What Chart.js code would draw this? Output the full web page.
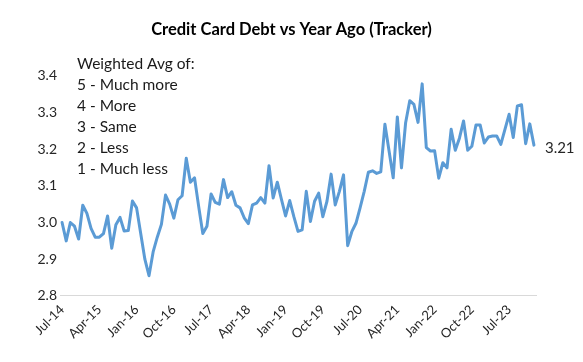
<!DOCTYPE html>
<html>
<head>
<meta charset="utf-8">
<script src="https://cdn.jsdelivr.net/npm/chart.js@4.4.1/dist/chart.umd.min.js"></script>
<style>
  html, body { margin: 0; padding: 0; background: #ffffff; }
  #wrap { width: 583px; height: 362px; }
</style>
</head>
<body>
<div id="wrap"><canvas id="c" width="583" height="362"></canvas></div>
<script>
const categories = [
  "Jul-14","Aug-14","Sep-14","Oct-14","Nov-14","Dec-14",
  "Jan-15","Feb-15","Mar-15","Apr-15","May-15","Jun-15","Jul-15","Aug-15","Sep-15","Oct-15","Nov-15","Dec-15",
  "Jan-16","Feb-16","Mar-16","Apr-16","May-16","Jun-16","Jul-16","Aug-16","Sep-16","Oct-16","Nov-16","Dec-16",
  "Jan-17","Feb-17","Mar-17","Apr-17","May-17","Jun-17","Jul-17","Aug-17","Sep-17","Oct-17","Nov-17","Dec-17",
  "Jan-18","Feb-18","Mar-18","Apr-18","May-18","Jun-18","Jul-18","Aug-18","Sep-18","Oct-18","Nov-18","Dec-18",
  "Jan-19","Feb-19","Mar-19","Apr-19","May-19","Jun-19","Jul-19","Aug-19","Sep-19","Oct-19","Nov-19","Dec-19",
  "Jan-20","Feb-20","Mar-20","Apr-20","May-20","Jun-20","Jul-20","Aug-20","Sep-20","Oct-20","Nov-20","Dec-20",
  "Jan-21","Feb-21","Mar-21","Apr-21","May-21","Jun-21","Jul-21","Aug-21","Sep-21","Oct-21","Nov-21","Dec-21",
  "Jan-22","Feb-22","Mar-22","Apr-22","May-22","Jun-22","Jul-22","Aug-22","Sep-22","Oct-22","Nov-22","Dec-22",
  "Jan-23","Feb-23","Mar-23","Apr-23","May-23","Jun-23","Jul-23","Aug-23","Sep-23","Oct-23","Nov-23","Dec-23",
  "Jan-24"
];

const trackerValues = [
  3.00, 2.95, 3.00, 2.99, 2.955, 3.047,
  3.025, 2.984, 2.96, 2.96, 2.97, 3.018, 2.93, 2.994, 3.014, 2.977, 2.978, 3.059,
  3.04, 2.97, 2.90, 2.855, 2.92, 2.96, 2.995, 3.075, 3.05, 3.012, 3.062, 3.073,
  3.175, 3.11, 3.122, 3.044, 2.97, 2.99, 3.078, 3.055, 3.05, 3.117, 3.068, 3.084,
  3.047, 3.04, 3.013, 2.997, 3.048, 3.053, 3.068, 3.053, 3.155, 3.067, 3.11, 3.063,
  3.018, 3.06, 3.016, 2.976, 2.98, 3.085, 3.003, 3.058, 3.08, 3.016, 3.058, 3.132,
  3.048, 3.085, 3.13, 2.937, 2.975, 2.998, 3.04, 3.085, 3.137, 3.141, 3.134, 3.138,
  3.268, 3.195, 3.122, 3.288, 3.149, 3.272, 3.332, 3.322, 3.273, 3.378, 3.204, 3.195,
  3.196, 3.121, 3.163, 3.149, 3.254, 3.197, 3.23, 3.277, 3.197, 3.208, 3.266, 3.266,
  3.217, 3.233, 3.236, 3.236, 3.213, 3.254, 3.295, 3.232, 3.318, 3.321, 3.215, 3.269,
  3.211
];

const yTicks = [2.8, 2.9, 3.0, 3.1, 3.2, 3.3, 3.4];
const labelEvery = 9;
const chartTitle = "Credit Card Debt vs Year Ago (Tracker)";
const noteLines = ["Weighted Avg of:", "5 - Much more", "4 - More", "3 - Same", "2 - Less", "1 - Much less"];
const lastLabel = "3.21";

const FONT = "Lato, 'Open Sans', sans-serif";

const textPlugin = {
  id: 'textPlugin',
  afterDraw(chart) {
    const ctx = chart.ctx;
    const xs = chart.scales.x, ys = chart.scales.y;
    ctx.save();
    // title centred on the full canvas width
    ctx.fillStyle = '#000000';
    ctx.font = "bold 16.5px " + FONT;
    ctx.textAlign = 'center';
    ctx.textBaseline = 'middle';
    ctx.fillText(chartTitle, chart.width / 2, 30);

    ctx.fillStyle = '#1a1a1a';
    ctx.font = "15.5px " + FONT;
    ctx.textAlign = 'left';
    noteLines.forEach((t, i) => {
      ctx.fillText(t, 77, 64 + i * 21);
    });
    const n = trackerValues.length - 1;
    const px = xs.getPixelForValue(n);
    const py = ys.getPixelForValue(trackerValues[n]);
    ctx.fillStyle = '#262626';
    ctx.font = "15px " + FONT;
    ctx.fillText(lastLabel, px + 11, py + 3);
    ctx.restore();
  }
};

new Chart(document.getElementById('c'), {
  type: 'line',
  data: {
    labels: categories,
    datasets: [{
      data: trackerValues,
      borderColor: '#5B9BD5',
      borderWidth: 3,
      pointRadius: 0,
      tension: 0,
      fill: false,
      borderJoinStyle: 'round',
      borderCapStyle: 'round'
    }]
  },
  options: {
    responsive: false,
    animation: false,
    layout: { padding: { left: 28, right: 47, top: 0, bottom: 14 } },
    plugins: {
      legend: { display: false },
      tooltip: { enabled: false },
      title: {
        display: true,
        text: chartTitle,
        color: 'rgba(0,0,0,0)',
        font: { family: FONT, size: 16.5, weight: 'bold' },
        padding: { top: 20, bottom: 36 }
      }
    },
    scales: {
      x: {
        offset: true,
        grid: { display: false, drawTicks: false },
        border: { display: true, color: '#d9d9d9', width: 1 },
        ticks: {
          autoSkip: false,
          maxRotation: 45,
          minRotation: 45,
          padding: 6,
          color: '#262626',
          font: { family: FONT, size: 13 },
          callback: (v, i) => (i % labelEvery === 0 ? categories[i] : '')
        }
      },
      y: {
        min: yTicks[0],
        max: yTicks[yTicks.length - 1],
        afterBuildTicks: (s) => { s.ticks = yTicks.map(v => ({ value: v })); },
        afterFit: (s) => { s.width = 32; },
        grid: { display: false, drawTicks: false },
        border: { display: false },
        ticks: {
          padding: 3,
          color: '#262626',
          font: { family: FONT, size: 14 },
          callback: (v) => Number(v).toFixed(1)
        }
      }
    }
  },
  plugins: [textPlugin]
});
</script>
</body>
</html>
